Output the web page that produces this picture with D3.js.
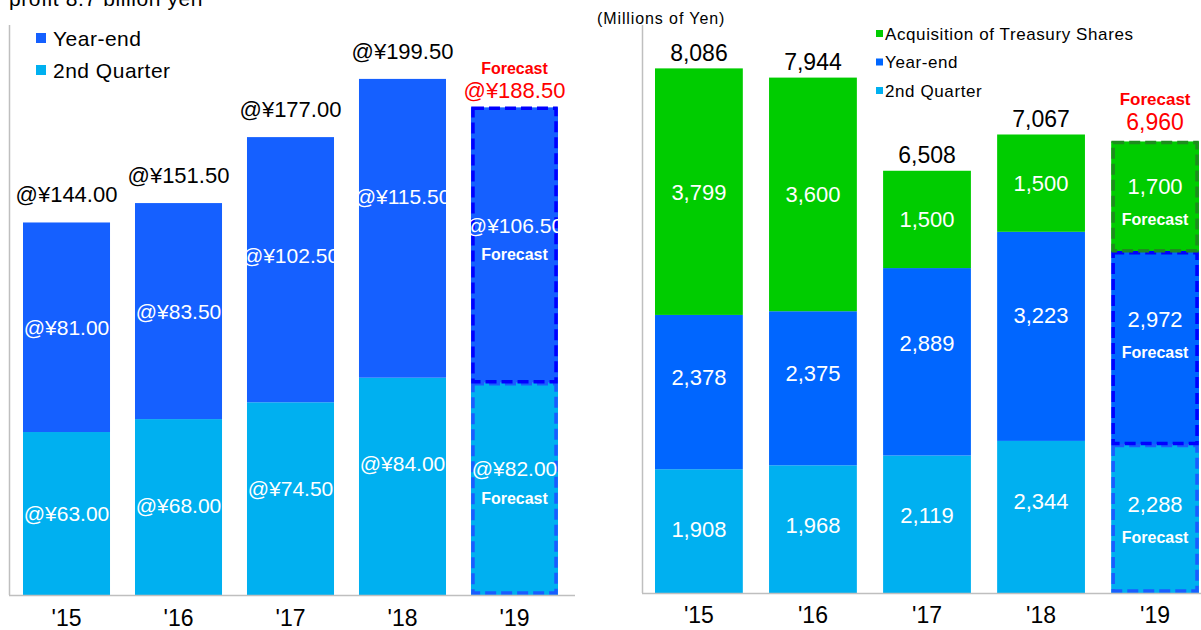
<!DOCTYPE html>
<html>
<head>
<meta charset="utf-8">
<script src="https://cdn.jsdelivr.net/npm/d3@7"></script>
<style>
  html, body { margin: 0; padding: 0; background: #fff; overflow: hidden; }
  svg { display: block; }
  .narrow { font-family: "Liberation Sans Narrow", "Arial Narrow", "Liberation Sans", Arial, sans-serif; }
  .sans { font-family: "Liberation Sans", Arial, sans-serif; }
</style>
</head>
<body>
<svg id="chart" width="1201" height="630"></svg>
<script>
// Fiscal years shown on both panels
const years = ["'15", "'16", "'17", "'18", "'19"];
const forecastYear = "'19";

// Dividend per share (yen): 2nd quarter and year-end
const dpsSecondQuarter = [63, 68, 74.5, 84, 82];
const dpsYearEnd = [81, 83.5, 102.5, 115.5, 106.5];
const dpsTotal = [144, 151.5, 177, 199.5, 188.5];

// Total shareholder return (millions of yen)
const retSecondQuarter = [1908, 1968, 2119, 2344, 2288];
const retYearEnd = [2378, 2375, 2889, 3223, 2972];
const retTreasury = [3799, 3600, 1500, 1500, 1700];
const retTotal = [8086, 7944, 6508, 7067, 6960];

const leftLegend = ["Year-end", "2nd Quarter"];
const rightLegend = ["Acquisition of Treasury Shares", "Year-end", "2nd Quarter"];

const C = {
  q2: "#00B0F0",
  yeL: "#1560FF",
  yeR: "#0066FF",
  green: "#00CC00",
  axis: "#BFBFBF",
  red: "#FF0000"
};

const svg = d3.select("#chart");

// heading line running off the top edge
svg.append("text").attr("class", "sans")
  .attr("x", 9).attr("y", 6).attr("font-size", 21).attr("letter-spacing", 0.6).attr("fill", "#000")
  .text("profit 8.7 billion yen");

const yen = v => "@¥" + d3.format(".2f")(v);
const num = d3.format(",");

// ---------------- Left panel: dividends per share ----------------
const xL = d3.scaleBand().domain(years).range([9, 572]).paddingInner(0.223).paddingOuter(0.125);
const yL = d3.scaleLinear().domain([0, 230]).range([595, 0]);

const left = svg.append("g");
left.append("line").attr("x1", 9.5).attr("x2", 9.5).attr("y1", 25).attr("y2", 595)
  .attr("stroke", C.axis).attr("stroke-width", 1.5);

const leftRows = years.map((y, i) => ({ year: y, q2: dpsSecondQuarter[i], ye: dpsYearEnd[i], total: dpsTotal[i] }));

leftRows.forEach(d => {
  const x = xL(d.year), w = xL.bandwidth();
  const fc = d.year === forecastYear;
  const yq2 = yL(d.q2), ytop = yL(d.q2 + d.ye), y0 = yL(0);
  // 2nd quarter segment
  left.append("rect").attr("x", x).attr("y", yq2).attr("width", w).attr("height", y0 - yq2).attr("fill", C.q2);
  // year-end segment
  left.append("rect").attr("x", x).attr("y", ytop).attr("width", w).attr("height", yq2 - ytop).attr("fill", C.yeL);
  if (fc) {
    left.append("rect").attr("x", x + 2).attr("y", yq2 + 1).attr("width", w - 4).attr("height", y0 - yq2 - 3)
      .attr("fill", "none").attr("stroke", "#1A5CFF").attr("stroke-width", 3.5).attr("stroke-dasharray", "11,5");
    left.append("rect").attr("x", x + 2).attr("y", ytop + 1).attr("width", w - 4).attr("height", yq2 - ytop - 2)
      .attr("fill", "none").attr("stroke", "#0000FF").attr("stroke-width", 3.5).attr("stroke-dasharray", "11,5");
  }
  const cx = x + w / 2;
  const yeLabelY = Math.min((ytop + yq2) / 2, ytop + 118);
  const q2LabelY = Math.min((yq2 + y0) / 2, yq2 + 86);
  left.append("text").attr("class", "narrow").attr("x", cx).attr("y", yeLabelY).attr("dy", "0.36em")
    .attr("text-anchor", "middle").attr("font-size", 21).attr("fill", "#fff").text(yen(d.ye));
  left.append("text").attr("class", "narrow").attr("x", cx).attr("y", q2LabelY).attr("dy", "0.36em")
    .attr("text-anchor", "middle").attr("font-size", 21).attr("fill", "#fff").text(yen(d.q2));
  if (fc) {
    [yeLabelY, q2LabelY].forEach(ly => {
      left.append("text").attr("class", "sans").attr("x", cx).attr("y", ly + 29).attr("dy", "0.36em")
        .attr("text-anchor", "middle").attr("font-size", 16).attr("font-weight", "bold").attr("fill", "#fff").text("Forecast");
    });
    left.append("text").attr("class", "sans").attr("x", cx).attr("y", ytop - 39).attr("dy", "0.36em")
      .attr("text-anchor", "middle").attr("font-size", 16).attr("font-weight", "bold").attr("fill", C.red).text("Forecast");
    left.append("text").attr("class", "narrow").attr("x", cx).attr("y", ytop - 17).attr("dy", "0.36em")
      .attr("text-anchor", "middle").attr("font-size", 22).attr("fill", C.red).text(yen(d.total));
  } else {
    left.append("text").attr("class", "narrow").attr("x", cx).attr("y", ytop - 28).attr("dy", "0.36em")
      .attr("text-anchor", "middle").attr("font-size", 22).attr("fill", "#000").text(yen(d.total));
  }
});

left.append("line").attr("x1", 9).attr("x2", 575).attr("y1", 595.5).attr("y2", 595.5)
  .attr("stroke", C.axis).attr("stroke-width", 1.5);

const axL = left.append("g").attr("transform", "translate(0,596)")
  .call(d3.axisBottom(xL).tickSize(0).tickPadding(14));
axL.select(".domain").remove();
axL.selectAll("text").attr("class", "narrow").attr("font-size", 23).attr("fill", "#000").attr("dy", "0.71em");

// left legend
const legL = left.append("g");
[C.yeL, C.q2].forEach((c, i) => {
  legL.append("rect").attr("x", 36).attr("y", 33 + i * 32).attr("width", 10).attr("height", 10).attr("fill", c);
  legL.append("text").attr("class", "sans").attr("x", 53).attr("y", 38 + i * 32).attr("dy", "0.36em")
    .attr("font-size", 21).attr("letter-spacing", 0.5).attr("fill", "#000").text(leftLegend[i]);
});

// ---------------- Right panel: total shareholder return ----------------
const xR = d3.scaleBand().domain(years).range([642, 1212]).paddingInner(0.23).paddingOuter(0.114);
const yR = d3.scaleLinear().domain([0, 9140]).range([593, 0]);

const right = svg.append("g");
right.append("text").attr("class", "sans").attr("x", 597).attr("y", 18).attr("dy", "0.36em")
  .attr("font-size", 16).attr("letter-spacing", 0.9).attr("fill", "#000").text("(Millions of Yen)");
right.append("line").attr("x1", 642.5).attr("x2", 642.5).attr("y1", 25).attr("y2", 593)
  .attr("stroke", C.axis).attr("stroke-width", 1.5);

const rightRows = years.map((y, i) => ({
  year: y, q2: retSecondQuarter[i], ye: retYearEnd[i], tr: retTreasury[i], total: retTotal[i]
}));

rightRows.forEach(d => {
  const x = xR(d.year), w = xR.bandwidth();
  const fc = d.year === forecastYear;
  const y0 = yR(0), yq2 = yR(d.q2), yye = yR(d.q2 + d.ye), ytop = yR(d.total);
  right.append("rect").attr("x", x).attr("y", yq2).attr("width", w).attr("height", y0 - yq2).attr("fill", C.q2);
  right.append("rect").attr("x", x).attr("y", yye).attr("width", w).attr("height", yq2 - yye).attr("fill", C.yeR);
  right.append("rect").attr("x", x).attr("y", ytop).attr("width", w).attr("height", yye - ytop).attr("fill", C.green);
  if (fc) {
    right.append("rect").attr("x", x + 2).attr("y", yq2 + 1).attr("width", w - 4).attr("height", y0 - yq2 - 3)
      .attr("fill", "none").attr("stroke", "#1A5CFF").attr("stroke-width", 3.5).attr("stroke-dasharray", "11,5");
    right.append("rect").attr("x", x + 2).attr("y", yye + 1).attr("width", w - 4).attr("height", yq2 - yye - 2)
      .attr("fill", "none").attr("stroke", "#0000FF").attr("stroke-width", 3.5).attr("stroke-dasharray", "11,5");
    right.append("rect").attr("x", x + 2).attr("y", ytop + 1).attr("width", w - 4).attr("height", yye - ytop - 2)
      .attr("fill", "none").attr("stroke", "#1E8C1E").attr("stroke-width", 3.5).attr("stroke-dasharray", "11,5");
  }
  const cx = x + w / 2;
  const trY = fc ? ytop + 45 : (ytop + yye) / 2;
  const yeY = yye + (yq2 - yye) * (fc ? 0.35 : 0.4);
  const q2Y = Math.min((yq2 + y0) / 2, yq2 + 60);
  [[d.tr, trY], [d.ye, yeY], [d.q2, q2Y]].forEach(([v, ly]) => {
    right.append("text").attr("class", "narrow").attr("x", cx).attr("y", ly).attr("dy", "0.36em")
      .attr("text-anchor", "middle").attr("font-size", 22).attr("fill", "#fff").text(num(v));
    if (fc) {
      right.append("text").attr("class", "sans").attr("x", cx).attr("y", ly + 33).attr("dy", "0.36em")
        .attr("text-anchor", "middle").attr("font-size", 16).attr("font-weight", "bold").attr("fill", "#fff").text("Forecast");
    }
  });
  if (fc) {
    right.append("text").attr("class", "sans").attr("x", cx).attr("y", ytop - 43).attr("dy", "0.36em")
      .attr("text-anchor", "middle").attr("font-size", 17).attr("font-weight", "bold").attr("fill", C.red).text("Forecast");
    right.append("text").attr("class", "narrow").attr("x", cx).attr("y", ytop - 20).attr("dy", "0.36em")
      .attr("text-anchor", "middle").attr("font-size", 23).attr("fill", C.red).text(num(d.total));
  } else {
    right.append("text").attr("class", "narrow").attr("x", cx).attr("y", ytop - 16).attr("dy", "0.36em")
      .attr("text-anchor", "middle").attr("font-size", 23).attr("fill", "#000").text(num(d.total));
  }
});

right.append("line").attr("x1", 642).attr("x2", 1201).attr("y1", 593.5).attr("y2", 593.5)
  .attr("stroke", C.axis).attr("stroke-width", 1.5);

const axR = right.append("g").attr("transform", "translate(0,594)")
  .call(d3.axisBottom(xR).tickSize(0).tickPadding(13));
axR.select(".domain").remove();
axR.selectAll("text").attr("class", "narrow").attr("font-size", 23).attr("fill", "#000").attr("dy", "0.71em");

// right legend
const legR = right.append("g");
[C.green, C.yeR, C.q2].forEach((c, i) => {
  legR.append("rect").attr("x", 876).attr("y", 30 + i * 28.5).attr("width", 7).attr("height", 7).attr("fill", c);
  legR.append("text").attr("class", "sans").attr("x", 885).attr("y", 33.5 + i * 28.5).attr("dy", "0.36em")
    .attr("font-size", 17).attr("letter-spacing", 0.6).attr("fill", "#000").text(rightLegend[i]);
});
</script>
</body>
</html>
